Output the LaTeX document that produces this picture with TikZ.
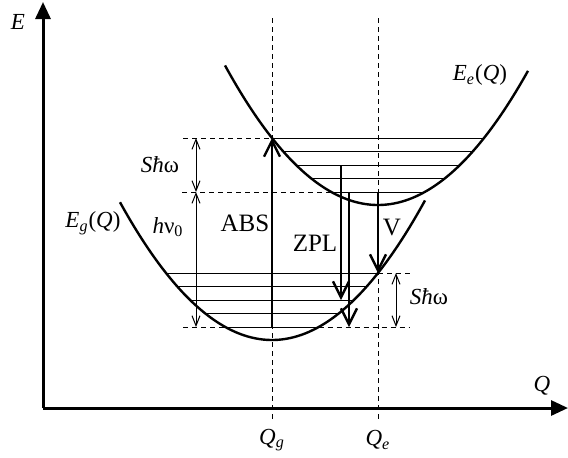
\documentclass[tikz,border=0pt]{standalone}
\usepackage{fontspec}
\setmainfont{Liberation Serif}
\usetikzlibrary{arrows.meta}
\tikzset{
  curve/.style={line width=1.2pt,smooth,samples=80},
  level/.style={line width=0.5pt},
  guide/.style={line width=0.5pt,dash pattern=on 2.5pt off 2pt},
  trans/.style={line width=1.2pt,-{Straight Barb[length=8pt,width=8pt,line width=1.2pt]}},
  dim/.style={line width=0.5pt,{Straight Barb[length=5pt,width=4pt]}-{Straight Barb[length=5pt,width=4pt]}},
  lab/.style={font=\fontsize{11.5}{13}\selectfont,inner sep=1pt},
  big/.style={font=\fontsize{12.5}{14}\selectfont,inner sep=1pt},
}
\begin{document}
\begin{tikzpicture}[x=0.5pt,y=-0.5pt]
	\useasboundingbox (0,0) rectangle (568,457);
	% axes
	\coordinate (O) at (43,408);
	\coordinate (Etip) at (43,2);
	\coordinate (Qtip) at (568,408);
	\draw[line width=1.5pt,-{Triangle[length=8.5pt,width=7.5pt]}] (O) -- (Etip);
	\draw[line width=1.5pt,-{Triangle[length=8.5pt,width=7.5pt]}] (O) -- (Qtip);
	\node[lab] (E) at (18,22) {\textit{E}};
	\node[lab] (Q) at (542,386) {\textit{Q}};

	% configuration coordinates
	\coordinate (Qgtop) at (272,18);
	\coordinate (Qgbot) at (272,422);
	\coordinate (Qetop) at (378,18);
	\coordinate (Qebot) at (378,422);
	\draw[guide] (Qgtop) -- (Qgbot);
	\draw[guide] (Qetop) -- (Qebot);
	\node[lab] (Qg) at (272,440) {\textit{Q}\textsubscript{\textit{g}}};
	\node[lab] (Qe) at (378,440) {\textit{Q}\textsubscript{\textit{e}}};

	% vibrational levels
	\foreach \y in {273,286.5,300,313.5} {
		\pgfmathsetmacro\dx{10*sqrt((340-\y)/0.5963)}
		\draw[level] (272-\dx,\y) -- (272+\dx,\y);
	}
	\foreach \y in {138,151.5,165,178.5} {
		\pgfmathsetmacro\dx{10*sqrt((205-\y)/0.5963)}
		\draw[level] (378-\dx,\y) -- (378+\dx,\y);
	}
	\draw[level] (225.3,327) -- (318.7,327);
	\draw[level] (331.3,192) -- (424.7,192);

	% dashed guides
	\draw[guide] (183,138) -- (272,138);
	\draw[guide] (182,192) -- (331.3,192);
	\draw[guide] (183,327) -- (225.3,327);
	\draw[guide] (318.7,327) -- (410,327);
	\draw[guide] (378,273) -- (410,273);

	% potential curves
	\draw[curve,domain=120:425] plot (\x,{340-0.5963*((\x-272)/10)^2});
	\draw[curve,domain=225:528] plot (\x,{205-0.5963*((\x-378)/10)^2});
	\node[lab] (Eg) at (93,223) {\textit{E}\textsubscript{\textit{g}}(\textit{Q})};
	\node[lab] (Ee) at (480,75) {\textit{E}\textsubscript{\textit{e}}(\textit{Q})};

	% energy spacings
	\coordinate (d1) at (196,138);
	\coordinate (d2) at (196,192);
	\coordinate (d3) at (196,327);
	\coordinate (d4) at (396,273);
	\coordinate (d5) at (396,327);
	\draw[dim] (d1) -- (d2);
	\draw[dim] (d2) -- (d3);
	\draw[dim] (d4) -- (d5);
	\node[lab] (S1) at (160,165) {\textit{Sħ}ω};
	\node[lab] (hv) at (168,227) {\textit{h}ν\textsubscript{0}};
	\node[lab] (S2) at (429,297) {\textit{Sħ}ω};

	% transitions
	\coordinate (abs0) at (272,327);
	\coordinate (abs1) at (272,138);
	\coordinate (zpa0) at (341,165);
	\coordinate (zpa1) at (341,300);
	\coordinate (zpb0) at (349,192);
	\coordinate (zpb1) at (349,327);
	\coordinate (v0) at (378,192);
	\coordinate (v1) at (378,273);
	\draw[trans] (abs0) -- (abs1);
	\draw[trans] (zpa0) -- (zpa1);
	\draw[trans] (zpb0) -- (zpb1);
	\draw[trans] (v0) -- (v1);
	\node[big] (ABS) at (245,223) {ABS};
	\node[big] (ZPL) at (315,243) {ZPL};
	\node[big] (V) at (392,227) {V};
\end{tikzpicture}
\end{document}
